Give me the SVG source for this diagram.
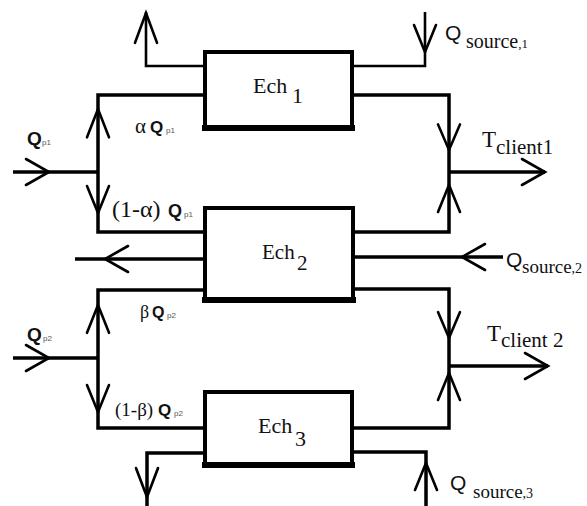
<svg xmlns="http://www.w3.org/2000/svg" xmlns:xlink="http://www.w3.org/1999/xlink" width="587" height="506" viewBox="0 0 587 506">
<style>
.box{fill:#fff;stroke:#000;stroke-width:4}
.bb{stroke:#000;stroke-width:6;stroke-linecap:square}
.ln{fill:none;stroke:#000;stroke-width:3.5;stroke-linejoin:miter;stroke-linecap:butt}
.th{fill:none;stroke:#000;stroke-width:2.6}
.ch{fill:none;stroke:#000;stroke-width:2.6;stroke-linecap:round;stroke-linejoin:miter}
.serif{font-family:"Liberation Serif","Times New Roman",serif;fill:#111}
.sans{font-family:"Liberation Sans",Arial,sans-serif;fill:#111}
.qb{font-family:"Liberation Sans",Arial,sans-serif;font-weight:bold;fill:#111}
.sub{font-family:"Liberation Sans",Arial,sans-serif;font-size:8px;fill:#555}
</style>
<defs>
<path id="chevV" d="M-11,-27 L0,0 L11,-27"/>
<path id="chevH" d="M-23,-13 L0,0 L-23,13"/>
</defs>
<rect width="587" height="506" fill="#fff"/>

<g id="connectors">
<path class="th" d="M205,66 H146 V12"/>
<path class="ln" d="M205,95 H98 V232 H205"/>
<path class="ln" d="M13,172 H98"/>
<path class="th" d="M352,66 H425 V12"/>
<path class="ln" d="M352,95 H449 V232 H352"/>
<path class="ln" d="M449,172 H545"/>
<path class="ln" d="M205,259 H75"/>
<path class="ln" d="M353,257 H503"/>
<path class="ln" d="M205,290 H98 V428 H205"/>
<path class="ln" d="M13,358 H98"/>
<path class="ln" d="M353,289 H449 V428 H352"/>
<path class="ln" d="M449,366 H548"/>
<path class="ln" d="M205,453 H147 V506"/>
<path class="ln" d="M352,452 H426 V506"/>
<use xlink:href="#chevV" class="ch" transform="translate(146,13) scale(1,-1.1)"/>
<use xlink:href="#chevV" class="ch" transform="translate(98,109) scale(1,-1.05)"/>
<use xlink:href="#chevV" class="ch" transform="translate(98,213)"/>
<use xlink:href="#chevH" class="ch" transform="translate(49,172)"/>
<use xlink:href="#chevV" class="ch" transform="translate(425,52)"/>
<use xlink:href="#chevV" class="ch" transform="translate(449,150) scale(1,0.95)"/>
<use xlink:href="#chevV" class="ch" transform="translate(449,185) scale(1,-1)"/>
<use xlink:href="#chevH" class="ch" transform="translate(545,172)"/>
<use xlink:href="#chevH" class="ch" transform="translate(105,259) scale(-1,1)"/>
<use xlink:href="#chevH" class="ch" transform="translate(462,257) scale(-1,1)"/>
<use xlink:href="#chevV" class="ch" transform="translate(98,305) scale(1,-1.03)"/>
<use xlink:href="#chevV" class="ch" transform="translate(98,412)"/>
<use xlink:href="#chevH" class="ch" transform="translate(49,358)"/>
<use xlink:href="#chevV" class="ch" transform="translate(449,338) scale(1,0.96)"/>
<use xlink:href="#chevV" class="ch" transform="translate(449,373) scale(1,-1)"/>
<use xlink:href="#chevH" class="ch" transform="translate(548,366)"/>
<use xlink:href="#chevV" class="ch" transform="translate(147,497) scale(1,1.07)"/>
<use xlink:href="#chevV" class="ch" transform="translate(426,463) scale(1,-1)"/>
</g>

<g id="ech1">
<rect class="box" x="205" y="52" width="147" height="76"/>
<line class="bb" x1="205" y1="128" x2="352" y2="128"/>
<text class="serif" x="253" y="93" font-size="22">Ech</text>
<text class="serif" x="292" y="103" font-size="22">1</text>
</g>

<g id="ech2">
<rect class="box" x="205" y="208" width="148" height="92"/>
<line class="bb" x1="205" y1="300" x2="353" y2="300"/>
<text class="serif" x="262" y="259" font-size="21">Ech</text>
<text class="serif" x="297" y="270" font-size="21">2</text>
</g>

<g id="ech3">
<rect class="box" x="205" y="392" width="147" height="73"/>
<line class="bb" x1="205" y1="465" x2="352" y2="465"/>
<text class="serif" x="258" y="433" font-size="22">Ech</text>
<text class="serif" x="295" y="446" font-size="22">3</text>
</g>

<g id="labels">
<text class="qb" x="27" y="145" font-size="19">Q</text>
<text class="sub" x="42" y="145">p1</text>

<text class="serif" x="135" y="133" font-size="21">α</text>
<text class="qb" x="150" y="133" font-size="17">Q</text>
<text class="sub" x="166" y="133">p1</text>

<text class="serif" x="112" y="217" font-size="24">(1-α)</text>
<text class="qb" x="168" y="217" font-size="18">Q</text>
<text class="sub" x="184" y="217">p1</text>

<text class="sans" x="445" y="40" font-size="21">Q</text>
<text class="serif" x="466" y="48" font-size="20">source<tspan font-size="13">,1</tspan></text>

<text class="serif" x="482" y="147" font-size="23">T</text>
<text class="serif" x="496" y="154" font-size="21">client1</text>

<text class="sans" x="506" y="267" font-size="21">Q</text>
<text class="serif" x="522" y="273" font-size="19">source<tspan font-size="14">,2</tspan></text>

<text class="serif" x="140" y="318" font-size="18">β</text>
<text class="qb" x="152" y="318" font-size="16">Q</text>
<text class="sub" x="167" y="318">p2</text>

<text class="qb" x="27" y="341" font-size="19">Q</text>
<text class="sub" x="43" y="341">p2</text>

<text class="serif" x="487" y="341" font-size="23">T</text>
<text class="serif" x="501" y="347" font-size="21">client 2</text>

<text class="serif" x="115" y="416" font-size="19">(1-β)</text>
<text class="qb" x="158" y="416" font-size="17">Q</text>
<text class="sub" x="174" y="416">p2</text>

<text class="sans" x="450" y="490" font-size="21">Q</text>
<text class="serif" x="473" y="498" font-size="19">source<tspan font-size="14">,3</tspan></text>
</g>
</svg>
